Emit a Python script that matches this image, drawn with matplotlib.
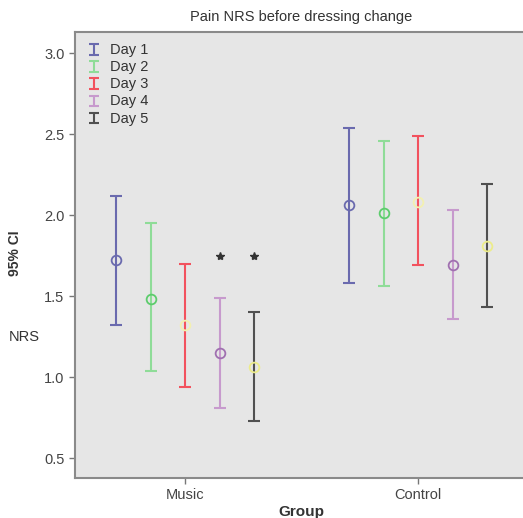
import matplotlib.pyplot as plt
import numpy as np
from matplotlib.legend_handler import HandlerErrorbar
from matplotlib.lines import Line2D
from matplotlib.container import ErrorbarContainer

# values (95% CI of pain NRS)
groups = ["Music", "Control"]
days = ["Day 1", "Day 2", "Day 3", "Day 4", "Day 5"]
music_mean = [1.72, 1.48, 1.32, 1.15, 1.06]
music_low = [1.32, 1.04, 0.94, 0.81, 0.73]
music_high = [2.12, 1.95, 1.70, 1.49, 1.40]
control_mean = [2.06, 2.01, 2.08, 1.69, 1.81]
control_low = [1.58, 1.56, 1.69, 1.36, 1.43]
control_high = [2.54, 2.46, 2.49, 2.03, 2.19]
star_days = [3, 4]          # Day 4, Day 5 in Music group
star_y = 1.75

bar_colors = ["#6a6aae", "#8fdc98", "#f2525e", "#c79acd", "#505050"]
mean_colors = ["#6a6aae", "#5ccc6c", "#f3f0b0", "#a070b0", "#ecec8a"]

plt.rcParams['font.family'] = ['Liberation Sans', 'DejaVu Sans']

fig = plt.figure(figsize=(5.23, 5.18), dpi=100)
ax = fig.add_axes([75 / 523, 40 / 518, 453 / 523, 446 / 518])
ax.set_facecolor("#e6e6e6")

offsets = (np.arange(5) - 2) * 0.148
means = [music_mean, control_mean]
lows = [music_low, control_low]
highs = [music_high, control_high]

for d in range(5):
    xs = np.arange(2) + offsets[d]
    m = np.array([means[0][d], means[1][d]])
    lo = np.array([lows[0][d], lows[1][d]])
    hi = np.array([highs[0][d], highs[1][d]])
    ax.errorbar(xs, m, yerr=[m - lo, hi - m], fmt="none", ecolor=bar_colors[d],
                elinewidth=1.5, capsize=4, capthick=1.5, label=days[d])
    ax.plot(xs, m, "o", mfc="none", mec=mean_colors[d], ms=7, mew=1.3)

ax.plot(offsets[star_days], [star_y] * len(star_days), "*", color="#333333", ms=6)

ax.set_xlim(-0.472, 1.47)
ax.set_ylim(0.377, 3.13)
ax.set_xticks([0, 1])
ax.set_xticklabels(groups)
ax.set_yticks([0.5, 1.0, 1.5, 2.0, 2.5, 3.0])
ax.set_yticklabels(["0.5", "1.0", "1.5", "2.0", "2.5", "3.0"])
ax.tick_params(colors="#777777", labelcolor="#444444", labelsize=10.5, length=4, width=1)

for s in ["left", "bottom", "top"]:
    ax.spines[s].set_color("#8a8a8a")
    ax.spines[s].set_linewidth(1.5)
ax.spines["right"].set_visible(False)

ax.set_title("Pain NRS before dressing change", fontsize=10.5, color="#333333", pad=8)
ax.set_xlabel("Group", fontsize=11, fontweight="bold", color="#333333", labelpad=2)
fig.text(15 / 523, 1 - 253 / 518, "95% CI", rotation=90, fontsize=10, fontweight="bold",
         color="#333333", ha="center", va="center")
fig.text(9 / 523, 1 - 337 / 518, "NRS", fontsize=10.5, color="#333333", ha="left", va="center")

leg = ax.legend(loc="upper left", frameon=False, fontsize=10.5, handlelength=0.6,
                handleheight=0.4, handletextpad=0.75, labelspacing=0.22,
                borderaxespad=0.0, borderpad=0.0,
                bbox_to_anchor=(0.033, 0.976),
                handler_map={ErrorbarContainer: HandlerErrorbar(xerr_size=0.5, yerr_size=0.36)})
for ln in leg.findobj(Line2D):
    if ln.get_marker() == "_":
        ln.set_markersize(7)
for t in leg.get_texts():
    t.set_color("#333333")

fig.savefig("out.png", dpi=100)
